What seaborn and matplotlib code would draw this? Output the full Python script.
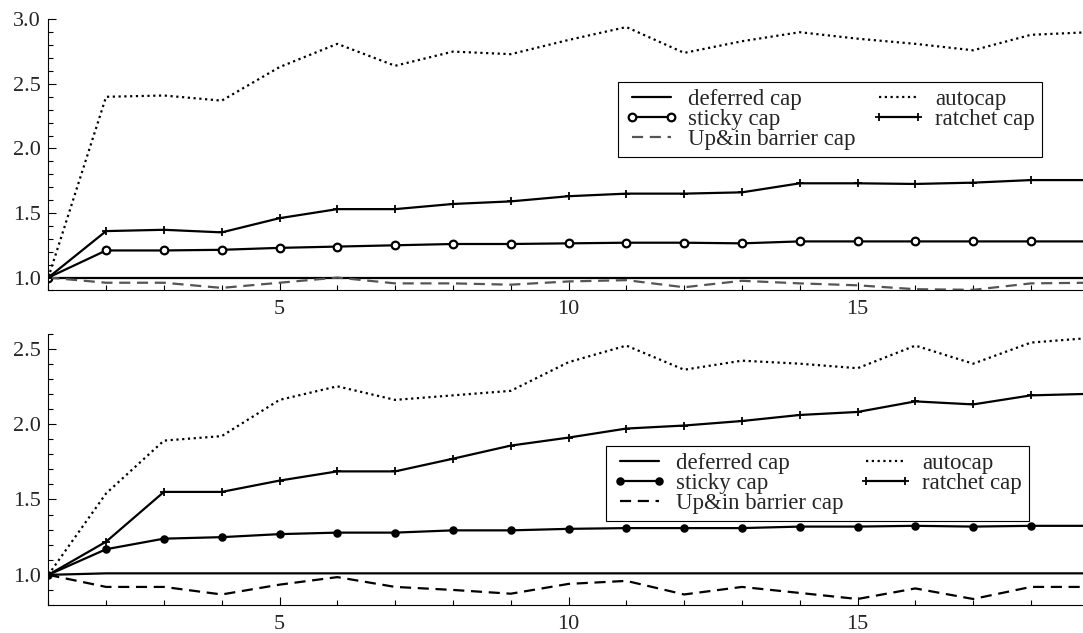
import numpy as np
import pandas as pd
import seaborn as sns
import matplotlib.pyplot as plt
from matplotlib.ticker import MultipleLocator

steps = list(range(1, 20))

# upper panel
top_deferred = [1.0] * 19
top_auto = [1.0, 2.40, 2.41, 2.37, 2.63, 2.81, 2.64, 2.75, 2.73, 2.84, 2.94,
            2.74, 2.83, 2.90, 2.85, 2.81, 2.76, 2.88, 2.90]
top_sticky = [1.0, 1.21, 1.21, 1.215, 1.23, 1.24, 1.25, 1.26, 1.26, 1.265, 1.27,
              1.27, 1.265, 1.28, 1.28, 1.28, 1.28, 1.28, 1.28]
top_ratchet = [1.0, 1.36, 1.37, 1.35, 1.46, 1.53, 1.53, 1.57, 1.59, 1.63, 1.65,
               1.65, 1.66, 1.73, 1.73, 1.725, 1.735, 1.755, 1.755]
top_upin = [1.0, 0.96, 0.96, 0.92, 0.96, 1.0, 0.955, 0.955, 0.945, 0.97, 0.98,
            0.925, 0.975, 0.955, 0.94, 0.91, 0.905, 0.955, 0.96]

# lower panel
bot_deferred = [1.0] + [1.01] * 18
bot_auto = [1.0, 1.54, 1.89, 1.92, 2.16, 2.25, 2.16, 2.19, 2.22, 2.41, 2.52,
            2.36, 2.42, 2.40, 2.37, 2.52, 2.40, 2.54, 2.57]
bot_sticky = [1.0, 1.17, 1.24, 1.25, 1.27, 1.28, 1.28, 1.295, 1.295, 1.305, 1.31,
              1.31, 1.31, 1.32, 1.32, 1.325, 1.32, 1.325, 1.325]
bot_ratchet = [1.0, 1.22, 1.55, 1.55, 1.625, 1.686, 1.686, 1.77, 1.857, 1.91, 1.97,
               1.99, 2.02, 2.06, 2.08, 2.15, 2.13, 2.19, 2.20]
bot_upin = [1.0, 0.92, 0.92, 0.87, 0.935, 0.985, 0.92, 0.90, 0.875, 0.94, 0.96,
            0.87, 0.92, 0.88, 0.84, 0.91, 0.84, 0.92, 0.92]

sns.set_style("ticks")
plt.rcParams['font.family'] = ['Liberation Serif', 'DejaVu Serif']
plt.rcParams['font.size'] = 16

fig = plt.figure(figsize=(10.83, 6.33), dpi=100)
ax1 = fig.add_axes([0.0446, 0.5411, 0.9554, 0.4284])
ax2 = fig.add_axes([0.0446, 0.0442, 0.9554, 0.4289])


def draw(ax, deferred, auto, sticky, ratchet, upin, sticky_face, sticky_size, upin_color):
    lw = 1.6
    sns.lineplot(x=steps, y=deferred, ax=ax, color='black', lw=lw, label='deferred cap')
    sns.lineplot(x=steps, y=sticky, ax=ax, color='black', lw=lw, marker='o',
                 markersize=sticky_size, markerfacecolor=sticky_face, markeredgecolor='black',
                 markeredgewidth=1.6, label='sticky cap')
    sns.lineplot(x=steps, y=upin, ax=ax, color=upin_color, lw=lw,
                 label='Up&in barrier cap').lines[-1].set_dashes((5, 3))
    sns.lineplot(x=steps, y=auto, ax=ax, color='black', lw=lw,
                 label='autocap').lines[-1].set_dashes((1, 1.6))
    sns.lineplot(x=steps, y=ratchet, ax=ax, color='black', lw=lw, marker='+',
                 markersize=6, markeredgewidth=1.3, markeredgecolor='black',
                 label='ratchet cap')


draw(ax1, top_deferred, top_auto, top_sticky, top_ratchet, top_upin, 'white', 5.5, '#555555')
draw(ax2, bot_deferred, bot_auto, bot_sticky, bot_ratchet, bot_upin, 'black', 4.5, 'black')

for ax, ylo, yhi, anchor in [(ax1, 0.9, 3.0, (0.551, 0.768)),
                             (ax2, 0.8, 2.6, (0.539, 0.587))]:
    ax.set_xlim(1, 18.9)
    ax.set_ylim(ylo, yhi)
    ax.xaxis.set_major_locator(MultipleLocator(5))
    ax.xaxis.set_minor_locator(MultipleLocator(1))
    ax.yaxis.set_major_locator(MultipleLocator(0.5))
    ax.yaxis.set_minor_locator(MultipleLocator(0.1))
    ax.tick_params(which='major', direction='in', length=6, width=0.8, color='black')
    ax.tick_params(which='minor', direction='in', length=3.5, width=0.8, color='black')
    ax.tick_params(axis='y', pad=5.5, labelsize=16)
    ax.tick_params(axis='x', pad=7, labelsize=16)
    ax.yaxis.set_major_formatter(plt.FormatStrFormatter('%.1f'))
    for s in ['top', 'right']:
        ax.spines[s].set_visible(False)
    for s in ['left', 'bottom']:
        ax.spines[s].set_linewidth(0.8)
        ax.spines[s].set_color('black')
    ax.set_xlabel('')
    ax.set_ylabel('')
    leg = ax.legend(ncol=2, loc='upper left', bbox_to_anchor=anchor, borderaxespad=0,
                    fancybox=False, framealpha=1, edgecolor='black', fontsize=16.5,
                    handlelength=2.3, handletextpad=0.45, columnspacing=0.7,
                    labelspacing=-0.04, borderpad=0.3, numpoints=2)
    leg.get_frame().set_linewidth(0.8)

fig.savefig('out.png', dpi=100)
